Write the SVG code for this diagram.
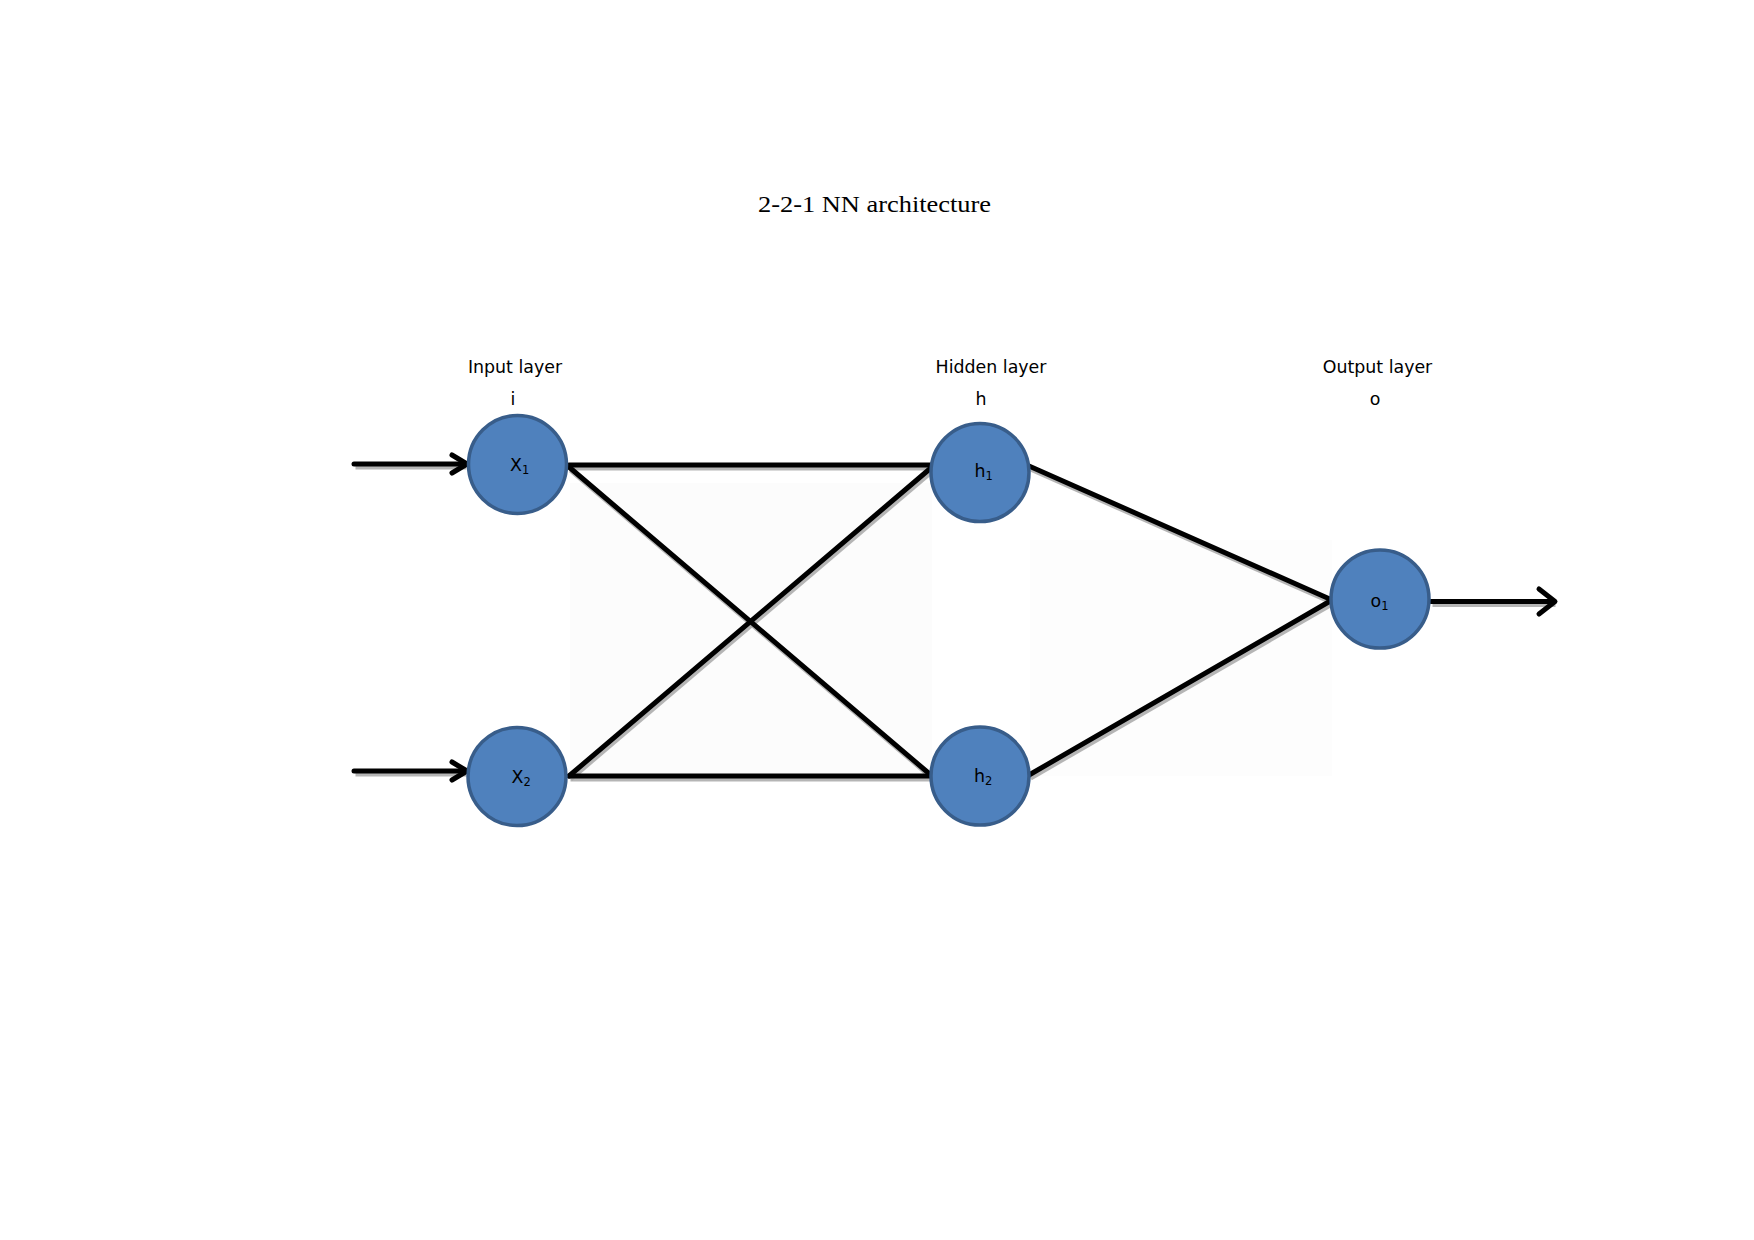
<svg xmlns="http://www.w3.org/2000/svg" width="1754" height="1240" viewBox="0 0 1754 1240">
<defs>
<style>
.node{fill:#4f81bd;stroke:#385d8a;stroke-width:3.5}
.edge{stroke:#000;stroke-width:5;fill:none;stroke-linecap:round;stroke-linejoin:round}
.shadow{stroke:#a8a8a8;stroke-width:5;fill:none;opacity:0.85}
.lbl{font-family:"DejaVu Sans",Verdana,sans-serif;font-size:17.4px;fill:#000}
.nl{font-family:"DejaVu Sans",Verdana,sans-serif;font-size:17.4px;fill:#000}
.sub{font-size:11.5px}
.title{font-family:"Liberation Serif","DejaVu Serif",serif;font-size:24px;fill:#000}
</style>
</defs>
<rect width="1754" height="1240" fill="#fff"/>
<g id="background">
<rect x="570" y="483" width="362" height="293" fill="#fcfcfc"/>
<rect x="1030" y="540" width="302" height="236" fill="#fdfdfd"/>
</g>
<text class="title" x="874.5" y="212" text-anchor="middle" textLength="233" lengthAdjust="spacingAndGlyphs">2-2-1 NN architecture</text>
<g id="layer-labels">
<text class="lbl" x="515" y="373" text-anchor="middle">Input layer</text>
<text class="lbl" x="513" y="405" text-anchor="middle">i</text>
<text class="lbl" x="991" y="373" text-anchor="middle">Hidden layer</text>
<text class="lbl" x="981" y="405" text-anchor="middle">h</text>
<text class="lbl" x="1377.5" y="373" text-anchor="middle">Output layer</text>
<text class="lbl" x="1375" y="405" text-anchor="middle">o</text>
</g>
<g id="connectors">
<g id="shadows" transform="translate(1.5,3)">
<line class="shadow" x1="354" y1="464" x2="465" y2="464"/>
<line class="shadow" x1="354" y1="771" x2="465" y2="771"/>
<line class="shadow" x1="569" y1="465" x2="932" y2="465"/>
<line class="shadow" x1="569" y1="467" x2="932" y2="776"/>
<line class="shadow" x1="569" y1="776" x2="932" y2="467"/>
<line class="shadow" x1="569" y1="776" x2="932" y2="776"/>
<line class="shadow" x1="1029" y1="466" x2="1332" y2="600"/>
<line class="shadow" x1="1029" y1="775" x2="1332" y2="600"/>
<line class="shadow" x1="1431" y1="601.5" x2="1554" y2="601.5"/>
</g>
<line class="edge" x1="354" y1="464" x2="465" y2="464"/>
<polyline class="edge" points="452,455 467,464 452,473"/>
<line class="edge" x1="354" y1="771" x2="465" y2="771"/>
<polyline class="edge" points="452,762 467,771 452,780"/>
<line class="edge" x1="569" y1="465" x2="932" y2="465"/>
<line class="edge" x1="569" y1="467" x2="932" y2="776"/>
<line class="edge" x1="569" y1="776" x2="932" y2="467"/>
<line class="edge" x1="569" y1="776" x2="932" y2="776"/>
<line class="edge" x1="1029" y1="466" x2="1332" y2="600"/>
<line class="edge" x1="1029" y1="775" x2="1332" y2="600"/>
<line class="edge" x1="1431" y1="601.5" x2="1553" y2="601.5"/>
<polyline class="edge" points="1539,589 1555,601.5 1539,614"/>
</g>
<g id="node-x1">
<circle class="node" cx="517.5" cy="464.5" r="49"/>
<text class="nl" x="510" y="471">X<tspan class="sub" dy="3">1</tspan></text>
</g>
<g id="node-x2">
<circle class="node" cx="517" cy="776.5" r="49"/>
<text class="nl" x="511.5" y="783">X<tspan class="sub" dy="3">2</tspan></text>
</g>
<g id="node-h1">
<circle class="node" cx="980" cy="472.5" r="49"/>
<text class="nl" x="974.5" y="477">h<tspan class="sub" dy="3">1</tspan></text>
</g>
<g id="node-h2">
<circle class="node" cx="980" cy="776" r="49"/>
<text class="nl" x="974" y="781.5">h<tspan class="sub" dy="3">2</tspan></text>
</g>
<g id="node-o1">
<circle class="node" cx="1380" cy="599" r="49"/>
<text class="nl" x="1370.5" y="606.5">o<tspan class="sub" dy="3">1</tspan></text>
</g>
</svg>
